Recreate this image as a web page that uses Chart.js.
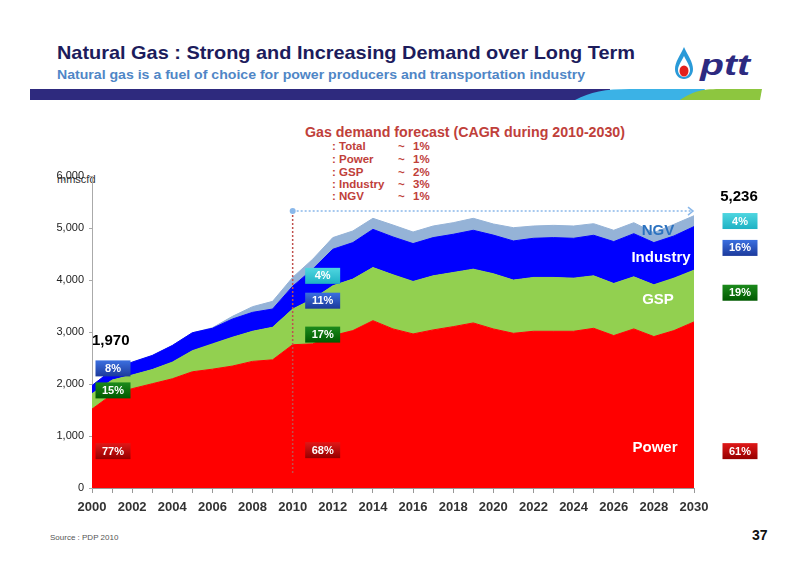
<!DOCTYPE html>
<html>
<head>
<meta charset="utf-8">
<script src="https://cdn.jsdelivr.net/npm/chart.js@4.4.0/dist/chart.umd.min.js"></script>
<style>
html, body { margin: 0; padding: 0; background: #fff; width: 800px; height: 566px; overflow: hidden; }
#wrap { position: relative; width: 800px; height: 566px; }
#deco, #c { position: absolute; left: 0; top: 0; }
</style>
</head>
<body>
<div id="wrap">
<svg id="deco" width="800" height="566" font-family="'Liberation Sans', Arial, sans-serif">
  <text x="57" y="59" font-size="19" font-weight="bold" fill="#1c1c5c" textLength="578" lengthAdjust="spacingAndGlyphs">Natural Gas : Strong and Increasing Demand over Long Term</text>
  <text x="57" y="79" font-size="13" font-weight="bold" fill="#4f86c6" textLength="528" lengthAdjust="spacingAndGlyphs">Natural gas is a fuel of choice for power producers and transportation industry</text>
  <rect x="30" y="89" width="580" height="11" fill="#2e2a7e"/>
  <path d="M575,100 C590,92 605,89 630,89 L705,89 L700,100 Z" fill="#3bb2e6"/>
  <path d="M680,100 C692,92 700,89 720,89 L762,89 L760,100 Z" fill="#8dc63f"/>
  <path d="M684,47 C680,56 675,62 675,69 C675,75 679,79 684,79 C689,79 693,75 693,69 C693,62 688,56 684,47 Z" fill="#2a9ad8"/>
  <path d="M684,56 C681,62 678,66 678,70 C678,74 681,77 684,77 C687,77 690,74 690,70 C690,66 687,62 684,56 Z" fill="#fff"/>
  <ellipse cx="684" cy="71" rx="4.5" ry="5.5" fill="#e3201b"/>
  <text x="700" y="75" font-size="30" font-weight="bold" font-style="italic" fill="#2d2a80" textLength="50" lengthAdjust="spacingAndGlyphs">ptt</text>

  <text x="305" y="137" font-size="14" font-weight="bold" fill="#c0403a" textLength="320" lengthAdjust="spacingAndGlyphs">Gas demand forecast (CAGR during 2010-2030)</text>
  <g font-size="11.5" font-weight="bold" fill="#c0403a">
    <text x="332" y="150">: Total</text><text x="398" y="150">~</text><text x="413" y="150">1%</text>
    <text x="332" y="163">: Power</text><text x="398" y="163">~</text><text x="413" y="163">1%</text>
    <text x="332" y="175.5">: GSP</text><text x="398" y="175.5">~</text><text x="413" y="175.5">2%</text>
    <text x="332" y="188">: Industry</text><text x="398" y="188">~</text><text x="413" y="188">3%</text>
    <text x="332" y="200">: NGV</text><text x="398" y="200">~</text><text x="413" y="200">1%</text>
  </g>
  <text x="57" y="183" font-size="11" fill="#333">mmscfd</text>
  <text x="50" y="540" font-size="8" fill="#555">Source : PDP 2010</text>
  <text x="752" y="540" font-size="14" font-weight="bold" fill="#111">37</text>
</svg>
<canvas id="c" width="800" height="566"></canvas>
</div>
<script>
// categories
const years = ['2000','2001','2002','2003','2004','2005','2006','2007','2008','2009','2010',
  '2011','2012','2013','2014','2015','2016','2017','2018','2019','2020',
  '2021','2022','2023','2024','2025','2026','2027','2028','2029','2030'];

// gas demand by sector, mmscfd
const power = [1517, 1800, 1910, 2005, 2100, 2235, 2285, 2345, 2435, 2465, 2755,
  2772, 2931, 3027, 3218, 3059, 2963, 3040, 3103, 3174, 3059,
  2975, 3014, 3014, 3014, 3071, 2931, 3059, 2912, 3027, 3194];
const gsp = [296, 275, 262, 272, 320, 405, 486, 554, 579, 626, 685,
  862, 958, 990, 1022, 1041, 1009, 1040, 1041, 1034, 1061,
  1023, 1035, 1035, 1022, 1009, 1002, 1002, 996, 1009, 995];
const industry = [157, 195, 248, 271, 320, 345, 300, 351, 364, 351, 440,
  574, 702, 702, 734, 728, 728, 735, 735, 748, 743,
  753, 753, 766, 766, 780, 805, 830, 811, 811, 838];
const ngv = [0, 0, 0, 0, 0, 0, 10, 51, 109, 147, 170,
  192, 224, 224, 212, 229, 223, 223, 223, 230, 214,
  255, 236, 236, 236, 223, 218, 211, 192, 223, 209];

// y axis ticks
const yTicks = [0, 1000, 2000, 3000, 4000, 5000, 6000];

// share boxes: [text, value where the box sits, colour]
const shares2000 = [['8%', 2300, 'blue'], ['15%', 1877, 'green'], ['77%', 709, 'red']];
const shares2010 = [['4%', 4080, 'cyan'], ['11%', 3602, 'blue'], ['17%', 2950, 'green'], ['68%', 728, 'red']];
const shares2030 = [['4%', 5134, 'cyan'], ['16%', 4617, 'blue'], ['19%', 3755, 'green'], ['61%', 709, 'red']];

const total2000 = '1,970';
const total2030 = '5,236';

const boxColors = {
  blue: ['#3b6fe0', '#1c3a9c'],
  green: ['#1c8a1c', '#005a00'],
  red: ['#e01818', '#960000'],
  cyan: ['#4fd6e0', '#1fb2c4']
};

function shareBox(ctx, text, cx, cy, kind) {
  const w = 35, h = 16;
  const g = ctx.createLinearGradient(0, cy - h / 2, 0, cy + h / 2);
  g.addColorStop(0, boxColors[kind][0]);
  g.addColorStop(1, boxColors[kind][1]);
  ctx.fillStyle = g;
  ctx.fillRect(cx - w / 2, cy - h / 2, w, h);
  ctx.fillStyle = '#fff';
  ctx.font = 'bold 11px "Liberation Sans", Arial, sans-serif';
  ctx.textAlign = 'center';
  ctx.textBaseline = 'middle';
  ctx.fillText(text, cx, cy + 0.5);
}

const notes = {
  id: 'notes',
  afterDatasetsDraw(chart) {
    const ctx = chart.ctx;
    const x = chart.scales.x, y = chart.scales.y;
    ctx.save();

    // forecast guides from 2010
    const x10 = x.getPixelForValue(10), x30 = x.getPixelForValue(30);
    const yTop = y.getPixelForValue(5326);
    ctx.setLineDash([2, 2]);
    ctx.lineWidth = 1.5;
    ctx.strokeStyle = '#c0504d';
    ctx.beginPath();
    ctx.moveTo(x10, yTop);
    ctx.lineTo(x10, y.getPixelForValue(250));
    ctx.stroke();
    ctx.strokeStyle = '#8ab8ea';
    ctx.beginPath();
    ctx.moveTo(x10, yTop);
    ctx.lineTo(x30 - 2, yTop);
    ctx.stroke();
    ctx.setLineDash([]);
    ctx.beginPath();
    ctx.moveTo(x30 - 6, yTop - 4);
    ctx.lineTo(x30 - 1, yTop);
    ctx.lineTo(x30 - 6, yTop + 4);
    ctx.stroke();
    ctx.fillStyle = '#8ab8ea';
    ctx.beginPath();
    ctx.arc(x10, yTop, 3, 0, Math.PI * 2);
    ctx.fill();

    // series names
    ctx.textAlign = 'center';
    ctx.textBaseline = 'middle';
    ctx.font = 'bold 15px "Liberation Sans", Arial, sans-serif';
    ctx.fillStyle = '#2b72c0';
    ctx.fillText('NGV', 658, y.getPixelForValue(4950));
    ctx.fillStyle = '#fff';
    ctx.fillText('Industry', 661, y.getPixelForValue(4420));
    ctx.fillText('GSP', 658, y.getPixelForValue(3610));
    ctx.fillText('Power', 655, y.getPixelForValue(770));

    // totals
    ctx.fillStyle = '#000';
    ctx.font = 'bold 15px "Liberation Sans", Arial, sans-serif';
    ctx.textAlign = 'left';
    ctx.fillText(total2000, x.getPixelForValue(0), y.getPixelForValue(2835));
    ctx.textAlign = 'center';
    ctx.fillText(total2030, x30 + 45, y.getPixelForValue(5590));

    shares2000.forEach(s => shareBox(ctx, s[0], x.getPixelForValue(0) + 21, y.getPixelForValue(s[1]), s[2]));
    shares2010.forEach(s => shareBox(ctx, s[0], x10 + 30, y.getPixelForValue(s[1]), s[2]));
    shares2030.forEach(s => shareBox(ctx, s[0], x30 + 46, y.getPixelForValue(s[1]), s[2]));
    ctx.restore();
  }
};

function area(label, data, color, fill) {
  return {
    label: label,
    data: data,
    backgroundColor: color,
    borderColor: color,
    borderWidth: 1,
    pointRadius: 0,
    tension: 0,
    fill: fill
  };
}

new Chart(document.getElementById('c').getContext('2d'), {
  type: 'line',
  data: {
    labels: years,
    datasets: [
      area('Power', power, '#ff0000', 'origin'),
      area('GSP', gsp, '#92d050', '-1'),
      area('Industry', industry, '#0000ff', '-1'),
      area('NGV', ngv, '#95b3d7', '-1')
    ]
  },
  options: {
    responsive: false,
    animation: false,
    devicePixelRatio: 1,
    layout: { padding: { left: 40, right: 106, top: 176, bottom: 38 } },
    plugins: { legend: { display: false }, tooltip: { enabled: false } },
    scales: {
      x: {
        afterFit: s => { s.height = 40; },
        grid: { drawOnChartArea: false, drawTicks: true, tickLength: 5, color: '#999' },
        border: { color: '#999' },
        ticks: {
          autoSkip: false,
          maxRotation: 0,
          padding: 7,
          color: '#333',
          font: { family: '"Liberation Sans", Arial, sans-serif', size: 13, weight: 'bold' },
          callback: (v, i) => (i % 2 === 0 ? years[i] : '')
        }
      },
      y: {
        stacked: true,
        min: 0,
        max: 6000,
        afterFit: s => { s.width = 52; },
        afterBuildTicks: s => { s.ticks = yTicks.map(v => ({ value: v })); },
        grid: { drawOnChartArea: false, drawTicks: true, tickLength: 3, color: '#aaa' },
        border: { color: '#aaa' },
        ticks: {
          padding: 5,
          color: '#222',
          font: { family: '"Liberation Sans", Arial, sans-serif', size: 11 },
          callback: v => v.toLocaleString('en-US')
        }
      }
    }
  },
  plugins: [notes]
});
</script>
</body>
</html>
